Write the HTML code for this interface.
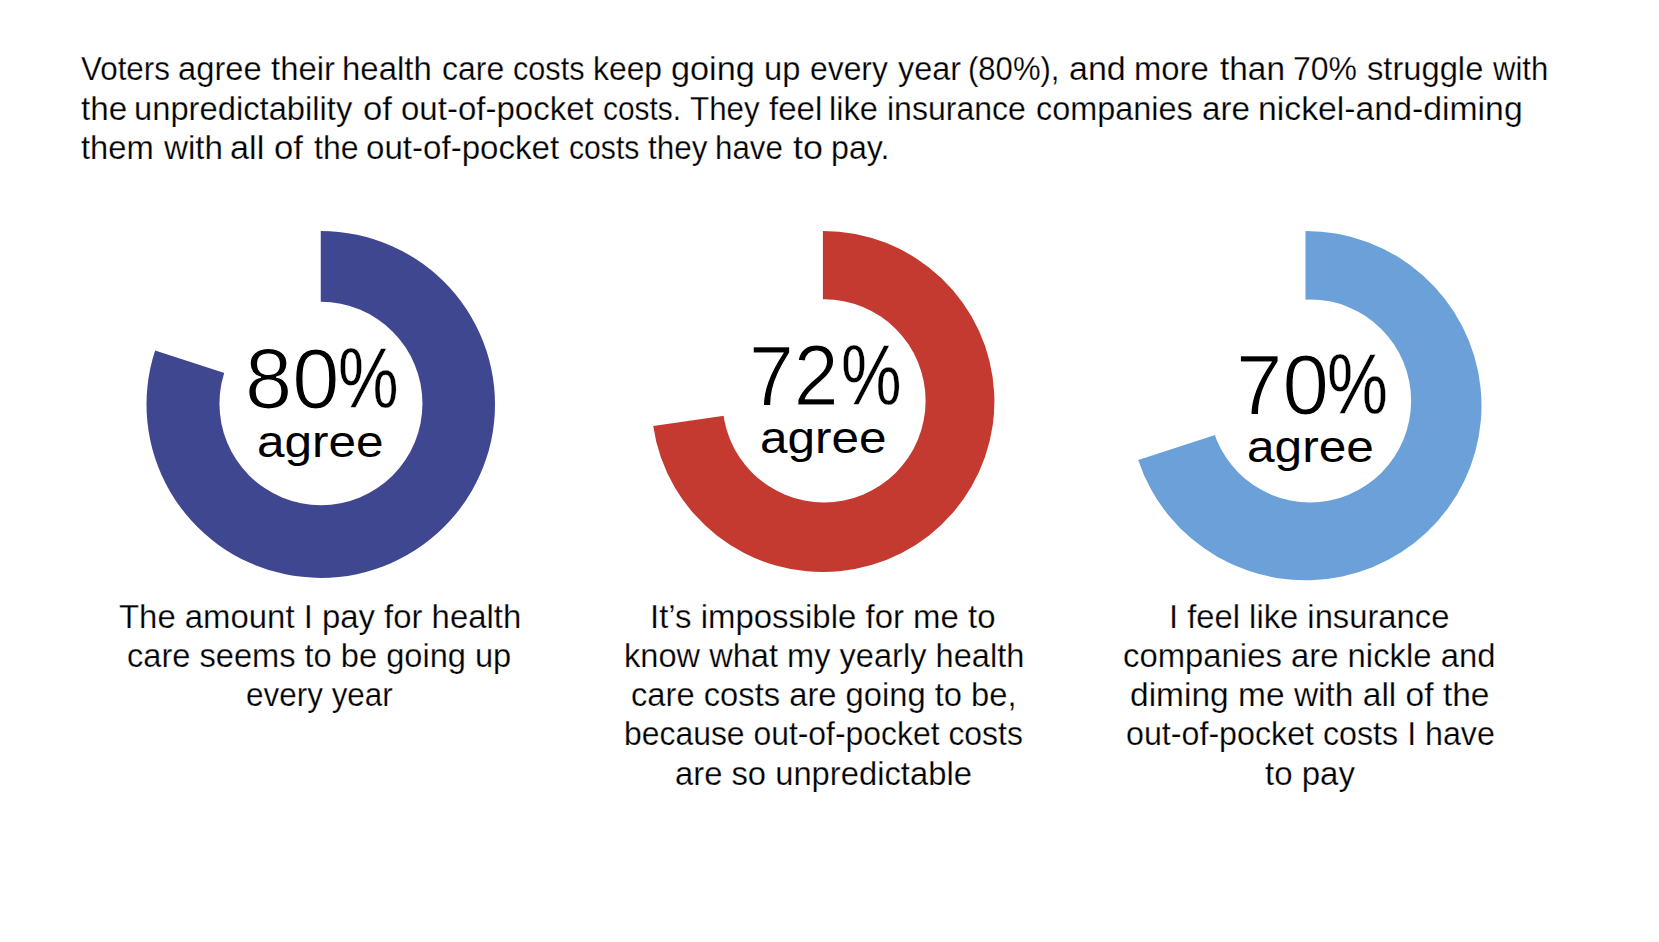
<!DOCTYPE html>
<html lang="en"><head><meta charset="utf-8"><title>Health care costs</title>
<style>
html,body{margin:0;padding:0;background:#fff}
body{width:1659px;height:942px;position:relative;overflow:hidden;font-family:"Liberation Sans",sans-serif;color:#000}
.t{position:absolute;white-space:nowrap;line-height:1;transform-origin:0 0;margin:0}
svg{position:absolute;left:0;top:0}
.hl{margin:0;font-size:33.5px;-webkit-text-stroke:0.25px #fff}
.hl .t{white-space:pre}
</style></head><body>
<svg width="1659" height="942" viewBox="0 0 1659 942">
<path d="M320.75 404.40L320.75 230.90A174.25 173.50 0 1 1 155.12 350.50Z" fill="#3f4790"/>
<ellipse cx="320.95" cy="403.55" rx="101.5" ry="101.7" fill="#fff"/>
<path d="M822.90 401.45L822.90 230.90A171.50 170.55 0 1 1 653.20 426.07Z" fill="#c43a30"/>
<ellipse cx="824.0" cy="400.8" rx="101.6" ry="101.6" fill="#fff"/>
<path d="M1305.50 405.60L1305.50 230.90A176.00 174.70 0 1 1 1138.21 459.88Z" fill="#6ca0d9"/>
<ellipse cx="1310.0" cy="400.9" rx="101.1" ry="101.5" fill="#fff"/>
</svg>
<p class="hl"><span class="t" style="left:80.85px;top:51.64px;transform:scaleX(0.9364)">Voters </span><span class="t" style="left:177.52px;top:51.64px;transform:scaleX(0.9770)">agree </span><span class="t" style="left:271.30px;top:51.64px;transform:scaleX(0.9815)">their </span><span class="t" style="left:342.43px;top:51.64px;transform:scaleX(0.9833)">health </span><span class="t" style="left:442.35px;top:51.64px;transform:scaleX(0.9547)">care </span><span class="t" style="left:513.49px;top:51.64px;transform:scaleX(0.9143)">costs </span><span class="t" style="left:592.50px;top:51.64px;transform:scaleX(0.9506)">keep </span><span class="t" style="left:671.28px;top:51.64px;transform:scaleX(1.0222)">going </span><span class="t" style="left:763.65px;top:51.64px;transform:scaleX(0.9770)">up </span><span class="t" style="left:810.15px;top:51.64px;transform:scaleX(0.9504)">every </span><span class="t" style="left:897.80px;top:51.64px;transform:scaleX(0.9654)">year </span><span class="t" style="left:967.85px;top:51.64px;transform:scaleX(0.9271)">(80%), </span><span class="t" style="left:1068.78px;top:51.64px;transform:scaleX(1.0153)">and </span><span class="t" style="left:1134.04px;top:51.64px;transform:scaleX(0.9798)">more </span><span class="t" style="left:1219.90px;top:51.64px;transform:scaleX(0.9972)">than </span><span class="t" style="left:1293.25px;top:51.64px;transform:scaleX(0.9534)">70% </span><span class="t" style="left:1367.00px;top:51.64px;transform:scaleX(0.9760)">struggle </span><span class="t" style="left:1493.33px;top:51.64px;transform:scaleX(0.9263)">with</span></p>
<p class="hl"><span class="t" style="left:80.90px;top:91.54px;transform:scaleX(0.9915)">the </span><span class="t" style="left:134.35px;top:91.54px;transform:scaleX(0.9769)">unpredictability </span><span class="t" style="left:362.67px;top:91.54px;transform:scaleX(1.0337)">of </span><span class="t" style="left:401.21px;top:91.54px;transform:scaleX(0.9857)">out-of-pocket </span><span class="t" style="left:603.21px;top:91.54px;transform:scaleX(0.8915)">costs. </span><span class="t" style="left:690.40px;top:91.54px;transform:scaleX(0.9358)">They </span><span class="t" style="left:768.80px;top:91.54px;transform:scaleX(0.9855)">feel </span><span class="t" style="left:829.26px;top:91.54px;transform:scaleX(0.9719)">like </span><span class="t" style="left:887.19px;top:91.54px;transform:scaleX(0.9563)">insurance </span><span class="t" style="left:1035.93px;top:91.54px;transform:scaleX(0.9672)">companies </span><span class="t" style="left:1201.61px;top:91.54px;transform:scaleX(0.9892)">are </span><span class="t" style="left:1257.68px;top:91.54px;transform:scaleX(1.0081)">nickel-and-diming</span></p>
<p class="hl"><span class="t" style="left:80.90px;top:131.24px;transform:scaleX(0.9775)">them </span><span class="t" style="left:163.79px;top:131.24px;transform:scaleX(0.9916)">with </span><span class="t" style="left:230.08px;top:131.24px;transform:scaleX(1.0228)">all </span><span class="t" style="left:273.86px;top:131.24px;transform:scaleX(1.0364)">of </span><span class="t" style="left:313.50px;top:131.24px;transform:scaleX(0.9575)">the </span><span class="t" style="left:366.01px;top:131.24px;transform:scaleX(0.9881)">out-of-pocket </span><span class="t" style="left:568.50px;top:131.24px;transform:scaleX(0.9006)">costs </span><span class="t" style="left:648.20px;top:131.24px;transform:scaleX(0.9390)">they </span><span class="t" style="left:714.53px;top:131.24px;transform:scaleX(0.9347)">have </span><span class="t" style="left:793.00px;top:131.24px;transform:scaleX(1.0713)">to </span><span class="t" style="left:830.98px;top:131.24px;transform:scaleX(0.9606)">pay.</span></p>
<div class="t" style="left:119.22px;top:600.34px;font-size:33.5px;-webkit-text-stroke:0.25px #fff;transform:scaleX(0.9818)">The amount I pay for health</div>
<div class="t" style="left:127.35px;top:639.44px;font-size:33.5px;-webkit-text-stroke:0.25px #fff;transform:scaleX(0.9732)">care seems to be going up</div>
<div class="t" style="left:246.46px;top:677.64px;font-size:33.5px;-webkit-text-stroke:0.25px #fff;transform:scaleX(0.9387)">every year</div>
<div class="t" style="left:650.35px;top:600.34px;font-size:33.5px;-webkit-text-stroke:0.25px #fff;transform:scaleX(0.9836)">It’s impossible for me to</div>
<div class="t" style="left:623.85px;top:639.44px;font-size:33.5px;-webkit-text-stroke:0.25px #fff;transform:scaleX(0.9730)">know what my yearly health</div>
<div class="t" style="left:631.05px;top:677.64px;font-size:33.5px;-webkit-text-stroke:0.25px #fff;transform:scaleX(0.9767)">care costs are going to be,</div>
<div class="t" style="left:623.90px;top:716.84px;font-size:33.5px;-webkit-text-stroke:0.25px #fff;transform:scaleX(0.9519)">because out-of-pocket costs</div>
<div class="t" style="left:674.84px;top:756.64px;font-size:33.5px;-webkit-text-stroke:0.25px #fff;transform:scaleX(0.9780)">are so unpredictable</div>
<div class="t" style="left:1169.27px;top:600.34px;font-size:33.5px;-webkit-text-stroke:0.25px #fff;transform:scaleX(0.9777)">I feel like insurance</div>
<div class="t" style="left:1122.74px;top:639.44px;font-size:33.5px;-webkit-text-stroke:0.25px #fff;transform:scaleX(0.9806)">companies are nickle and</div>
<div class="t" style="left:1130.30px;top:677.64px;font-size:33.5px;-webkit-text-stroke:0.25px #fff;transform:scaleX(1.0003)">diming me with all of the</div>
<div class="t" style="left:1125.54px;top:716.84px;font-size:33.5px;-webkit-text-stroke:0.25px #fff;transform:scaleX(0.9617)">out-of-pocket costs I have</div>
<div class="t" style="left:1264.81px;top:756.64px;font-size:33.5px;-webkit-text-stroke:0.25px #fff;transform:scaleX(0.9856)">to pay</div>
<div class="t" style="left:244.83px;top:335.72px;font-size:85.5px;-webkit-text-stroke:1.2px #fff;transform:scaleX(0.9920)">80</div>
<div class="t" style="left:337.51px;top:335.72px;font-size:85.5px;-webkit-text-stroke:0.4px #fff;transform:scaleX(0.7971)">%</div>
<div class="t" style="left:257.30px;top:418.51px;font-size:45px;transform:scaleX(1.1000)">agree</div>
<div class="t" style="left:749.29px;top:332.52px;font-size:85.5px;-webkit-text-stroke:1.2px #fff;transform:scaleX(0.9424)">72</div>
<div class="t" style="left:840.51px;top:332.52px;font-size:85.5px;-webkit-text-stroke:0.4px #fff;transform:scaleX(0.7971)">%</div>
<div class="t" style="left:760.30px;top:415.31px;font-size:45px;transform:scaleX(1.1000)">agree</div>
<div class="t" style="left:1235.52px;top:342.22px;font-size:85.5px;-webkit-text-stroke:1.2px #fff;transform:scaleX(0.9756)">70</div>
<div class="t" style="left:1326.70px;top:342.22px;font-size:85.5px;-webkit-text-stroke:0.4px #fff;transform:scaleX(0.8014)">%</div>
<div class="t" style="left:1246.50px;top:423.51px;font-size:45px;transform:scaleX(1.1018)">agree</div>
</body></html>
